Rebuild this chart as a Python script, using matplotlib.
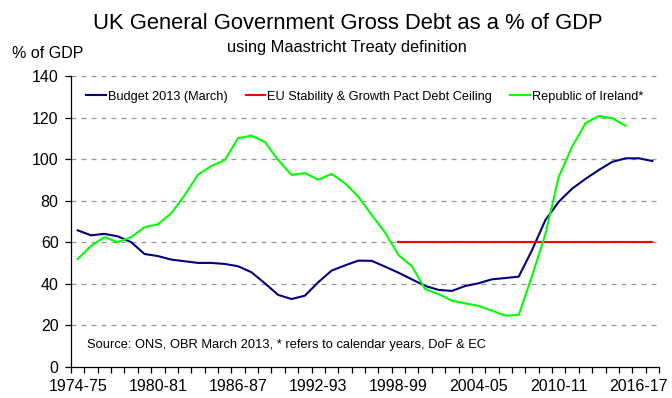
import numpy as np
from matplotlib import pyplot as plt

plt.rcParams['font.family'] = ['Liberation Sans', 'DejaVu Sans']

# financial years 1974-75 .. 2017-18
years = [f"{y}-{(y + 1) % 100:02d}" for y in range(1974, 2018)]
shown_labels = ['1974-75', '1980-81', '1986-87', '1992-93',
                '1998-99', '2004-05', '2010-11', '2016-17']

budget_2013 = [65.7, 63.3, 64.0, 62.8, 60.0, 54.3, 53.3, 51.6, 50.8, 50.0,
               50.0, 49.5, 48.4, 45.5, 40.2, 34.6, 32.6, 34.2, 40.7, 46.3,
               48.8, 51.1, 51.0, 48.2, 45.3, 42.1, 38.9, 37.0, 36.5, 38.9,
               40.2, 42.1, 42.7, 43.4, 56.2, 70.7, 79.5, 85.8, 90.5, 94.8,
               98.7, 100.4, 100.4, 99.1]

ireland = [51.9, 58.2, 62.4, 60.0, 62.4, 67.2, 68.6, 73.9, 82.6, 92.5,
           96.7, 99.5, 110.1, 111.3, 108.3, 99.6, 92.4, 93.3, 90.1, 92.9,
           88.4, 81.9, 73.1, 64.6, 53.8, 48.5, 37.4, 35.0, 31.8, 30.5,
           29.3, 27.0, 24.6, 24.9, 43.7, 64.0, 91.6, 106.0, 117.3, 120.8,
           119.7, 116.1]

ceiling_value = 60
ceiling_from = '1998-99'

x = np.arange(len(years))
ire = np.full(len(years), np.nan)
ire[:len(ireland)] = ireland
start = years.index(ceiling_from)
ceiling = np.where(x >= start, ceiling_value, np.nan)

fig = plt.figure(figsize=(6.72, 3.98), dpi=100)
ax = fig.add_axes([0.1057, 0.0787, 0.875, 0.730])

ax.plot(x, budget_2013, color='#000080', lw=1.5, label='Budget 2013 (March)')
ax.plot(x, ceiling, color='#ff0000', lw=1.5,
        label='EU Stability & Growth Pact Debt Ceiling')
ax.plot(x, ire, color='#00ff00', lw=1.5, label='Republic of Ireland*')

ax.set_xlim(-0.5, len(years) - 0.5)
ax.set_ylim(0, 140)
ax.set_yticks(range(0, 141, 20))
ax.yaxis.grid(True, color='#999999', lw=0.9, dashes=(4, 4))
ax.set_axisbelow(True)

# tick marks sit between the years, labels sit on the years
ax.set_xticks(np.arange(-0.5, len(years), 1))
ax.set_xticklabels([])
ax.set_xticks([years.index(s) for s in shown_labels], minor=True)
ax.set_xticklabels(shown_labels, minor=True)
ax.tick_params(axis='x', which='major', length=4.5, width=0.9, direction='out')
ax.tick_params(axis='x', which='minor', length=0, pad=9, labelsize=11.5)
ax.tick_params(axis='y', length=4, width=0.9, pad=5, labelsize=11.5)

for s in ['top', 'right']:
    ax.spines[s].set_visible(False)
for s in ['left', 'bottom']:
    ax.spines[s].set_linewidth(0.9)

ax.legend(loc='center left', bbox_to_anchor=(0.026, 0.929), ncol=3,
          frameon=False, fontsize=9.2, handlelength=1.55, handletextpad=0.15,
          columnspacing=1.4, borderpad=0, borderaxespad=0)

ax.text(0.027, 0.073, 'Source: ONS, OBR March 2013, * refers to calendar years, DoF & EC',
        transform=ax.transAxes, fontsize=9.3, va='center', ha='left')

fig.text(0.517, 0.940, 'UK General Government Gross Debt as a % of GDP',
         ha='center', va='center', fontsize=15.8)
fig.text(0.517, 0.880, 'using Maastricht Treaty definition',
         ha='center', va='center', fontsize=11.8)
fig.text(0.0174, 0.866, '% of GDP', ha='left', va='center', fontsize=11.5)

fig.savefig('out.png', dpi=100)
